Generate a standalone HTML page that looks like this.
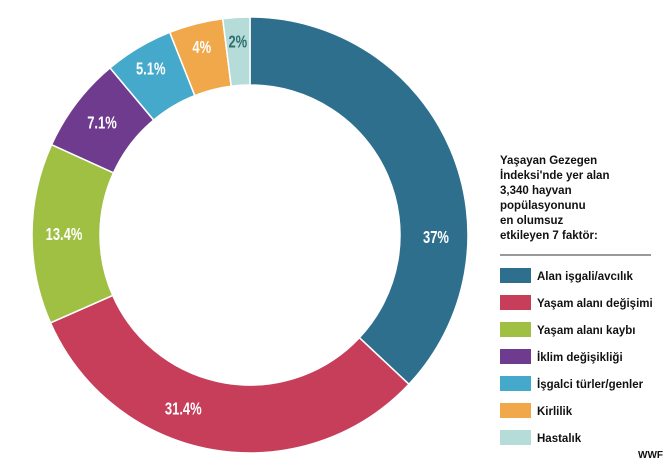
<!DOCTYPE html>
<html><head><meta charset="utf-8"><style>
body{margin:0;width:670px;height:467px;background:#fff;overflow:hidden;font-family:"Liberation Sans",sans-serif}
</style></head><body>
<svg width="670" height="467">
<g id="slices"></g>
<g id="labels"></g>
<g font-weight="bold" font-size="11.5" fill="#111">
<text font-size="11.5">
<tspan x="500" y="164">Yaşayan Gezegen</tspan><tspan x="500" y="179">İndeksi'nde yer alan</tspan><tspan x="500" y="194">3,340 hayvan</tspan><tspan x="500" y="209">popülasyonunu</tspan><tspan x="500" y="224">en olumsuz</tspan><tspan x="500" y="239">etkileyen 7 faktör:</tspan></text>
<line x1="500" y1="255" x2="651" y2="255" stroke="#333" stroke-width="1"/>
<g id="legend-items"></g>
<text x="663" y="458" text-anchor="end" font-size="10">WWF</text>
</g>
</svg>
<script>
const categories=["Alan işgali/avcılık","Yaşam alanı değişimi","Yaşam alanı kaybı","İklim değişikliği","İşgalci türler/genler","Kirlilik","Hastalık"];
const values=[37,31.4,13.4,7.1,5.1,4,2];
const valueLabels=["37%","31.4%","13.4%","7.1%","5.1%","4%","2%"];
const colors=["#2e6f8e","#c73e5a","#a0c044","#6e3b8e","#45a9cc","#f0a84a","#b5dcd8"];
const NS="http://www.w3.org/2000/svg";
const cx=250,cy=235,R=218,r=150;
const total=values.reduce((a,b)=>a+b,0);
function pt(a,rad){return [cx+rad*Math.sin(a),cy-rad*Math.cos(a)];}
let ang=0;
const sg=document.getElementById('slices'),lg=document.getElementById('labels'),li=document.getElementById('legend-items');
values.forEach((v,i)=>{
 const a0=ang,a1=ang+v/total*2*Math.PI;ang=a1;
 const big=(a1-a0)>Math.PI?1:0;
 const [x0,y0]=pt(a0,R),[x1,y1]=pt(a1,R),[x2,y2]=pt(a1,r),[x3,y3]=pt(a0,r);
 const p=document.createElementNS(NS,'path');
 p.setAttribute('d',`M${x0},${y0}A${R},${R} 0 ${big} 1 ${x1},${y1}L${x2},${y2}A${r},${r} 0 ${big} 0 ${x3},${y3}Z`);
 p.setAttribute('fill',colors[i]);p.setAttribute('stroke','#fff');p.setAttribute('stroke-width','1.5');
 
 
 sg.appendChild(p);
 let la=(a0+a1)/2;
 if(v/total>0.3) la=a0+(a1-a0)*(i==0?0.68:0.6);
 const [lx,ly]=pt(la,(v/total<0.06)?194:186);
 const t=document.createElementNS(NS,'text');
 t.setAttribute('x',lx);t.setAttribute('y',ly+6);t.setAttribute('text-anchor','middle');
 t.setAttribute('font-size','18');t.setAttribute('font-weight','bold');
 t.setAttribute('fill',i==6?'#2e6f6e':'#fff');
 t.setAttribute('transform',`translate(${lx},0) scale(0.72,1) translate(${-lx},0)`);
 t.textContent=valueLabels[i];
 
 
 lg.appendChild(t);
 const y=268+i*27;
 const s=document.createElementNS(NS,'rect');
 s.setAttribute('x',500);s.setAttribute('y',y);s.setAttribute('width',31);s.setAttribute('height',15);s.setAttribute('fill',colors[i]);
 
 
 li.appendChild(s);
 const lt=document.createElementNS(NS,'text');
 lt.setAttribute('x',537);lt.setAttribute('y',y+12);lt.textContent=categories[i];
 
 
 li.appendChild(lt);
});
</script>
</body></html>
